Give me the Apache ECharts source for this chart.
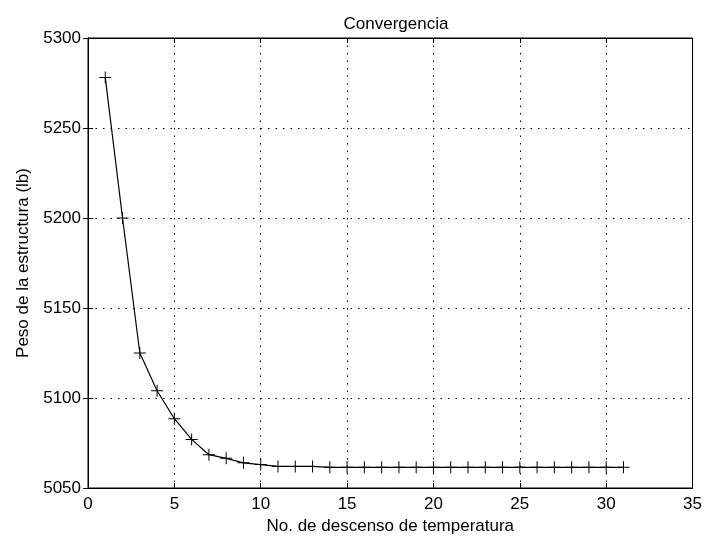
<!DOCTYPE html>
<html>
<head>
<meta charset="utf-8">
<script src="https://cdn.jsdelivr.net/npm/echarts@6/dist/echarts.min.js"></script>
<style>html,body{margin:0;padding:0;background:#fff;}#c{width:705px;height:540px;}</style>
</head>
<body>
<div id="c"></div>
<script>
var titleText = 'Convergencia';
var xLabel = 'No. de descenso de temperatura';
var yLabel = 'Peso de la estructura (lb)';
var iterations = [1,2,3,4,5,6,7,8,9,10,11,12,13,14,15,16,17,18,19,20,21,22,23,24,25,26,27,28,29,30,31];
var weights = [5278,5200,5125,5104,5088.5,5077,5068.5,5066.5,5064,5063,5062,5062,5062,5061.5,5061.5,5061.5,5061.5,5061.5,5061.5,5061.5,5061.5,5061.5,5061.5,5061.5,5061.5,5061.5,5061.5,5061.5,5061.5,5061.5,5061.5];
var xTicks = {min:0, max:35, step:5};
var yTicks = {min:5050, max:5300, step:50};

var font = 'Liberation Sans, Arial, sans-serif';
var fs = 17;
var plain = function(v){ return String(v); };
var pts = iterations.map(function(x,i){return [x, weights[i]];});
var chart = echarts.init(document.getElementById('c'), null, {renderer:'canvas'});
var gridLine = {show:true, lineStyle:{color:'#000', width:1, type:[1.5,6]}};
chart.setOption({
  animation:false,
  backgroundColor:'#fff',
  title:{text:titleText, left:391, textAlign:'center', top:11, textStyle:{fontFamily:font, fontSize:fs, fontWeight:'normal', color:'#000'}},
  grid:{left:88, right:10, top:38, bottom:51, show:true, borderColor:'#000', borderWidth:1, backgroundColor:'#fff'},
  xAxis:[{
    type:'value', min:xTicks.min, max:xTicks.max, interval:xTicks.step,
    name:xLabel, nameLocation:'middle', nameGap:30,
    nameTextStyle:{fontFamily:font, fontSize:fs, color:'#000'},
    axisLine:{show:true, lineStyle:{color:'#000', width:1}},
    axisTick:{show:true, inside:true, length:5, lineStyle:{color:'#000'}},
    axisLabel:{fontFamily:font, fontSize:fs, color:'#000', margin:8, formatter:plain},
    splitLine:gridLine
  },{
    type:'value', position:'top', min:xTicks.min, max:xTicks.max, interval:xTicks.step,
    axisLine:{show:true, lineStyle:{color:'#000', width:1}},
    axisTick:{show:true, inside:true, length:5, lineStyle:{color:'#000'}},
    axisLabel:{show:false}, splitLine:{show:false}
  }],
  yAxis:[{
    type:'value', min:yTicks.min, max:yTicks.max, interval:yTicks.step,
    name:yLabel, nameLocation:'middle', nameGap:52, nameRotate:90,
    nameTextStyle:{fontFamily:font, fontSize:fs, color:'#000'},
    axisLine:{show:true, lineStyle:{color:'#000', width:1}},
    axisTick:{show:true, inside:true, length:5, lineStyle:{color:'#000'}},
    axisLabel:{fontFamily:font, fontSize:fs, color:'#000', margin:7, formatter:plain},
    splitLine:gridLine
  },{
    type:'value', position:'right', min:yTicks.min, max:yTicks.max, interval:yTicks.step,
    axisLine:{show:true, lineStyle:{color:'#000', width:1}},
    axisTick:{show:true, inside:true, length:5, lineStyle:{color:'#000'}},
    axisLabel:{show:false}, splitLine:{show:false}
  }],
  series:[{
    type:'line', data:pts, xAxisIndex:0, yAxisIndex:0,
    lineStyle:{color:'#000', width:1.2},
    symbol:'path://M5.5,0H6.5V5.5H12V6.5H6.5V12H5.5V6.5H0V5.5H5.5Z',
    symbolSize:12, showSymbol:true,
    itemStyle:{color:'#000', borderWidth:0},
    z:5
  }]
});
</script>
</body>
</html>
